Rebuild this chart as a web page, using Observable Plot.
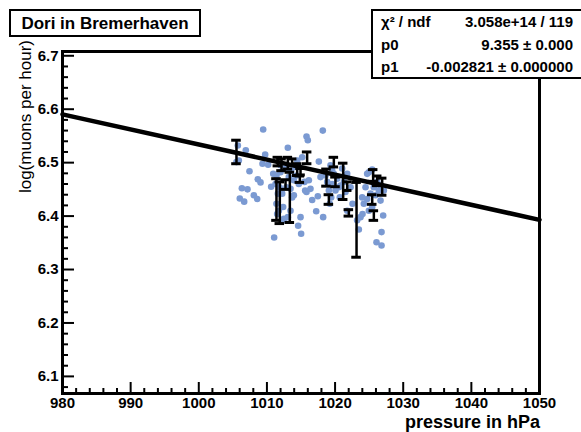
<!DOCTYPE html>
<html>
<head>
<meta charset="utf-8">
<script src="https://cdn.jsdelivr.net/npm/d3@7"></script>
<script src="https://cdn.jsdelivr.net/npm/@observablehq/plot@0.6"></script>
<style>
  body { margin: 0; background: #fff; }
</style>
</head>
<body>
<div id="chart"></div>
<script>
// raw measurements (pressure in hPa, log rate)
const pressure = [
  1005.73, 1005.88, 1005.53, 1006.90, 1007.44, 1008.66, 1009.06, 1006.32, 1007.15, 1006.02,
  1006.66, 1008.08, 1008.57, 1009.45, 1009.74, 1009.35, 1010.18, 1010.62, 1010.92, 1011.06,
  1011.99, 1011.40, 1011.60, 1012.24, 1011.40, 1011.75, 1012.48, 1012.38, 1013.07, 1012.87,
  1013.21, 1013.46, 1013.70, 1013.56, 1013.95, 1014.34, 1014.68, 1014.93, 1014.58, 1015.02,
  1015.17, 1015.81, 1016.00, 1015.51, 1015.81, 1016.15, 1015.61, 1016.39, 1016.64, 1017.47,
  1017.23, 1018.25, 1017.62, 1018.20, 1014.44, 1014.10, 1012.73, 1011.99, 1011.26, 1013.46,
  1013.07, 1011.85, 1013.95, 1012.38, 1011.50,
  1019.33, 1019.57, 1019.82, 1020.31, 1020.80, 1018.84, 1019.09, 1019.43, 1020.06, 1020.55,
  1021.29, 1021.53, 1021.78, 1022.56, 1022.27, 1021.78, 1021.04, 1018.60, 1019.23, 1017.86,
  1019.57, 1020.70,
  1023.24, 1023.49, 1023.73, 1024.03, 1024.71, 1024.96, 1025.45, 1025.69, 1026.67, 1026.08,
  1026.82, 1026.82, 1027.06, 1025.20, 1025.94, 1026.42, 1024.71, 1024.22, 1024.47, 1023.98,
  1026.18, 1025.45, 1026.67, 1027.16, 1024.96
];
const logRate = [
  6.532, 6.504, 6.501, 6.523, 6.484, 6.469, 6.463, 6.452, 6.450, 6.433,
  6.427, 6.439, 6.432, 6.562, 6.515, 6.498, 6.496, 6.455, 6.479, 6.360,
  6.495, 6.476, 6.442, 6.442, 6.423, 6.410, 6.395, 6.417, 6.528, 6.454,
  6.473, 6.451, 6.435, 6.485, 6.467, 6.476, 6.460, 6.398, 6.382, 6.367,
  6.510, 6.549, 6.542, 6.464, 6.445, 6.467, 6.448, 6.451, 6.430, 6.437,
  6.409, 6.398, 6.502, 6.560, 6.504, 6.492, 6.489, 6.482, 6.460, 6.410,
  6.398, 6.454, 6.439, 6.392, 6.404,
  6.495, 6.485, 6.479, 6.470, 6.457, 6.464, 6.448, 6.435, 6.448, 6.454,
  6.464, 6.445, 6.410, 6.423, 6.454, 6.479, 6.489, 6.476, 6.423, 6.473,
  6.460, 6.435,
  6.392, 6.375, 6.398, 6.404, 6.479, 6.482, 6.487, 6.454, 6.429, 6.351,
  6.345, 6.370, 6.401, 6.442, 6.439, 6.448, 6.432, 6.423, 6.454, 6.435,
  6.464, 6.417, 6.457, 6.448, 6.410
];

// profile points with errors
const profP = [
  1005.53, 1011.40, 1011.89, 1012.14, 1013.07, 1013.36, 1013.70, 1014.44, 1014.83, 1015.90,
  1011.60, 1012.73, 1014.93,
  1018.74, 1019.09, 1019.82, 1020.06, 1021.19, 1022.02, 1023.15, 1021.78,
  1025.59, 1026.18, 1026.91, 1025.69, 1025.45
];
const profV = [
  6.520, 6.431, 6.425, 6.496, 6.499, 6.435, 6.501, 6.487, 6.469, 6.509,
  6.502, 6.459, 6.483,
  6.472, 6.431, 6.501, 6.464, 6.465, 6.406, 6.393, 6.456,
  6.476, 6.466, 6.455, 6.401, 6.431
];
const profErr = [
  0.022, 0.039, 0.039, 0.011, 0.011, 0.047, 0.006, 0.011, 0.006, 0.011,
  0.008, 0.009, 0.006,
  0.016, 0.009, 0.009, 0.009, 0.034, 0.006, 0.070, 0.008,
  0.011, 0.009, 0.016, 0.009, 0.009
];

// fit result
const p0 = 9.355;
const p1 = -0.002821;
const fitRange = [980, 1050];

const xMajor = d3.range(980, 1051, 10);
const xMinor = d3.range(980, 1051, 2).filter(v => v % 10 !== 0);
const yMajor = [6.1, 6.2, 6.3, 6.4, 6.5, 6.6, 6.7];
const yMinor = d3.range(6.08, 6.705, 0.02).map(v => +v.toFixed(2)).filter(v => !yMajor.includes(v));

const points = pressure.map((p, i) => ({p, v: logRate[i]}));
const prof = profP.map((p, i) => ({p, v: profV[i], e: profErr[i]}));
const fit = fitRange.map(p => ({p, v: p0 + p1 * p}));

const W = 581, H = 432;
const mL = 62, mR = 42, mT = 51, mB = 39;
const pw = W - mL - mR, ph = H - mT - mB;

const chart = Plot.plot({
  width: W,
  height: H,
  marginLeft: mL,
  marginRight: mR,
  marginTop: mT,
  marginBottom: mB,
  style: {fontFamily: "Liberation Sans, Arial, sans-serif", fontSize: "15px", fontWeight: "bold", color: "#000", background: "#fff"},
  x: {domain: [980, 1050], ticks: xMajor, tickSize: 0, tickPadding: 4, tickFormat: d3.format("d"), label: null},
  y: {domain: [6.068, 6.708], ticks: yMajor, tickSize: 0, tickPadding: 4, tickFormat: d3.format(".1f"), label: null},
  marks: [
    // inner ticks like ROOT
    Plot.ruleY(yMajor, {stroke: "#000", strokeWidth: 2, insetRight: pw - 12}),
    Plot.ruleY(yMinor, {stroke: "#000", strokeWidth: 2, insetRight: pw - 6}),
    Plot.ruleX(xMajor, {stroke: "#000", strokeWidth: 2, insetTop: ph - 11}),
    Plot.ruleX(xMinor, {stroke: "#000", strokeWidth: 2, insetTop: ph - 5}),
    Plot.dot(points, {x: "p", y: "v", r: 3.3, fill: "#7b9ad2", stroke: "none"}),
    Plot.ruleX(prof, {x: "p", y1: d => d.v - d.e, y2: d => d.v + d.e, stroke: "#000", strokeWidth: 2.5}),
    Plot.ruleY(prof, {y: d => d.v + d.e, x1: d => d.p - 0.7, x2: d => d.p + 0.7, stroke: "#000", strokeWidth: 3}),
    Plot.ruleY(prof, {y: d => d.v - d.e, x1: d => d.p - 0.7, x2: d => d.p + 0.7, stroke: "#000", strokeWidth: 3}),
    Plot.line(fit, {x: "p", y: "v", stroke: "#000", strokeWidth: 4.5}),
    Plot.frame({stroke: "#000", strokeWidth: 3})
  ]
});

const svg = d3.select(chart);

// axis titles
svg.append("text")
  .attr("transform", "translate(31,40) rotate(-90)")
  .attr("text-anchor", "end")
  .style("font-weight", "normal")
  .style("font-size", "17px")
  .text("log(muons per hour)");

svg.append("text")
  .attr("x", 540).attr("y", 428)
  .attr("text-anchor", "end")
  .style("font-size", "18px")
  .text("pressure in hPa");

// title box
const tb = svg.append("g");
tb.append("rect").attr("x", 10).attr("y", 10).attr("width", 190).attr("height", 26)
  .attr("fill", "#fff").attr("stroke", "#000").attr("stroke-width", 2);
tb.append("text").attr("x", 105).attr("y", 29).attr("text-anchor", "middle")
  .style("font-size", "17px").text("Dori in Bremerhaven");

// stats box
const sb = svg.append("g").style("font-size", "15px");
sb.append("rect").attr("x", 372).attr("y", 10).attr("width", 215).attr("height", 68)
  .attr("fill", "#fff").attr("stroke", "#000").attr("stroke-width", 2);
const rows = [["χ² / ndf", "3.058e+14 / 119"], ["p0", "9.355 ± 0.000"], ["p1", "-0.002821 ± 0.000000"]];
rows.forEach(([a, b], i) => {
  const y = 27 + i * 22.5;
  sb.append("text").attr("x", 381).attr("y", y).attr("text-anchor", "start").text(a);
  sb.append("text").attr("x", 573).attr("y", y).attr("text-anchor", "end").text(b);
});

document.getElementById("chart").append(chart);
</script>
</body>
</html>
